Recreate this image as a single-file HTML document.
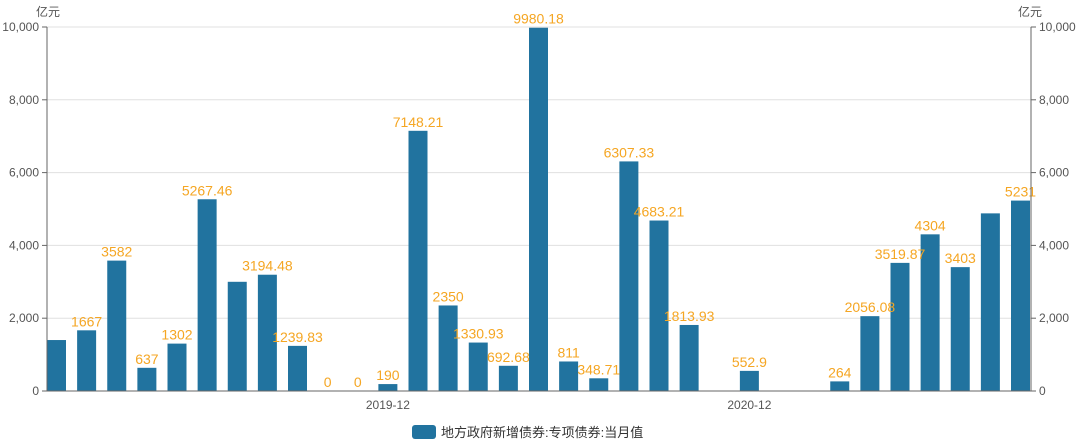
<!DOCTYPE html>
<html><head><meta charset="utf-8"><style>
html,body{margin:0;padding:0;background:#fff;}
svg{display:block;font-family:"Liberation Sans","Noto Sans CJK SC",sans-serif;}
</style></head><body>
<svg id="chart" width="1080" height="446">
<text x="36" y="16" font-size="12" fill="#555">亿元</text>
<text x="1018" y="16" font-size="12" fill="#555">亿元</text>
<g id="grid"></g><g id="bars"></g><g id="labels"></g><g id="axes"></g>
<g>
<rect x="412" y="425" width="24" height="14" rx="3" fill="#21739f"/>
<text x="441" y="437" font-size="13" fill="#333">地方政府新增债券:专项债券:当月值</text>
</g>
</svg>
<script>
const categories=["2019-01","2019-02","2019-03","2019-04","2019-05","2019-06","2019-07","2019-08","2019-09","2019-10","2019-11","2019-12","2020-01","2020-02","2020-03","2020-04","2020-05","2020-06","2020-07","2020-08","2020-09","2020-10","2020-11","2020-12","2021-01","2021-02","2021-03","2021-04","2021-05","2021-06","2021-07","2021-08","2021-09"];
const values=[1400,1667,3582,637,1302,5267.46,3000,3194.48,1239.83,0,0,190,7148.21,2350,1330.93,692.68,9980.18,811,348.71,6307.33,4683.21,1813.93,null,552.9,null,null,264,2056.08,3519.87,4304,3403,4880,5231];
const labelTexts=["","1667","3582","637","1302","5267.46","","3194.48","1239.83","0","0","190","7148.21","2350","1330.93","692.68","9980.18","811","348.71","6307.33","4683.21","1813.93","","552.9","","","264","2056.08","3519.87","4304","3403","","5231"];
const yTicks=[0,2000,4000,6000,8000,10000];
const xTickLabels=["2019-12","2020-12"];
const NS="http://www.w3.org/2000/svg";
const L=47,R=1031,T=27,B=391,yMax=10000;
const y=v=>B-(v/yMax)*(B-T);
const x=i=>56.5+i*(1020.5-56.5)/(categories.length-1);
function mk(tag,attrs,parent,txt){const e=document.createElementNS(NS,tag);for(const k in attrs)e.setAttribute(k,attrs[k]);if(txt!==undefined)e.textContent=txt;parent.appendChild(e);return e;}
const grid=document.getElementById('grid'),bars=document.getElementById('bars'),labels=document.getElementById('labels'),axes=document.getElementById('axes');
yTicks.forEach(t=>{
  if(t>0){const g=mk('line',{x1:L,x2:R,y1:y(t),y2:y(t),stroke:'#e0e0e0','stroke-width':1},grid);
  
  }
  const lt=mk('text',{x:L-8,y:y(t)+4,'text-anchor':'end','font-size':12,fill:'#555'},axes,t.toLocaleString('en-US'));
  
  
  const rt=mk('text',{x:R+8,y:y(t)+4,'text-anchor':'start','font-size':12,fill:'#555'},axes,t.toLocaleString('en-US'));
  
  
  mk('line',{x1:L-5,x2:L,y1:y(t),y2:y(t),stroke:'#666'},axes);
  mk('line',{x1:R,x2:R+5,y1:y(t),y2:y(t),stroke:'#666'},axes);
});
values.forEach((v,i)=>{
  if(v!==null&&v>0){const r=mk('rect',{x:x(i)-9.5,y:y(v),width:19,height:B-y(v),fill:'#21739f'},bars);
  
  }
  if(labelTexts[i]&&v!==null){const t=mk('text',{x:x(i),y:y(v)-4,'text-anchor':'middle','font-size':14,fill:'#f5a623'},labels,labelTexts[i]);
  
  }
});
xTickLabels.forEach(lbl=>{const i=categories.indexOf(lbl);
  const t=mk('text',{x:x(i),y:B+18,'text-anchor':'middle','font-size':12,fill:'#555'},axes,lbl);
  
  
});
const la=mk('line',{x1:L,x2:L,y1:T,y2:B,stroke:'#666'},axes);


const ra=mk('line',{x1:R,x2:R,y1:T,y2:B,stroke:'#666'},axes);


const xa=mk('line',{x1:L-5,x2:R+5,y1:B,y2:B,stroke:'#666'},axes);


</script>
</body></html>
